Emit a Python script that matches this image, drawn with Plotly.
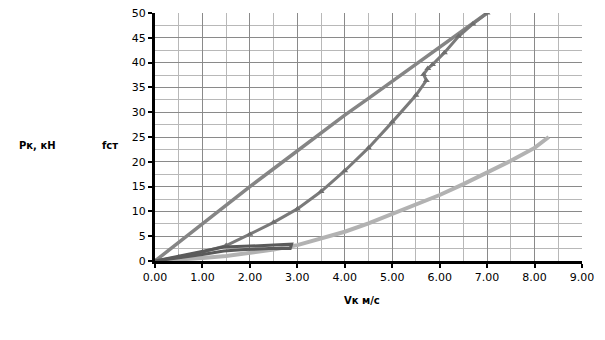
import plotly.graph_objects as go

# Traction force Pk (kN) versus speed Vk (m/s)
upper_v = [0.0, 0.5, 1.0, 1.5, 2.0, 2.5, 3.0, 3.5, 4.0, 4.5, 5.0, 5.5, 6.0, 6.5, 7.0]
upper_p = [0.0, 3.8, 7.4, 11.2, 15.0, 18.6, 22.2, 25.9, 29.4, 32.8, 36.2, 39.6, 43.0, 46.5, 50.0]

lower_v = [0.0, 0.5, 1.0, 1.5, 2.0, 2.5, 3.0, 3.5, 4.0, 4.5, 5.0, 5.5, 5.72, 5.66, 5.75, 5.85,
           6.1, 6.4, 6.7, 7.0]
lower_p = [0.0, 0.8, 1.8, 3.1, 5.4, 7.8, 10.5, 14.0, 18.2, 22.8, 28.0, 33.4, 36.4, 37.6, 38.8,
           39.6, 42.0, 45.3, 47.8, 50.0]

small_v = [0.0, 0.7, 1.45, 2.0, 2.5, 2.88, 2.85, 2.4, 1.9, 1.45, 1.0, 0.5, 0.0]
small_p = [0.0, 1.3, 2.8, 3.0, 3.2, 3.4, 2.5, 2.5, 2.3, 2.0, 1.3, 0.6, 0.0]

light_v = [0.0, 0.5, 1.0, 1.5, 2.0, 2.5, 3.0, 3.5, 4.0, 4.5, 5.0, 5.5, 6.0, 6.5, 7.0, 7.5, 8.0, 8.3]
light_p = [0.0, 0.2, 0.6, 1.0, 1.6, 2.3, 3.2, 4.5, 5.9, 7.6, 9.5, 11.4, 13.3, 15.5, 17.8, 20.2,
           22.8, 25.0]

x_ticks = [0, 1, 2, 3, 4, 5, 6, 7, 8, 9]
y_ticks = [0, 5, 10, 15, 20, 25, 30, 35, 40, 45, 50]

fig = go.Figure()
fig.add_trace(go.Scatter(x=light_v, y=light_p, mode="lines",
                         line=dict(color="#b2b2b2", width=4)))
fig.add_trace(go.Scatter(x=upper_v, y=upper_p, mode="lines",
                         line=dict(color="#858585", width=3.5)))
fig.add_trace(go.Scatter(x=lower_v, y=lower_p, mode="lines+markers",
                         line=dict(color="#7a7a7a", width=3),
                         marker=dict(symbol="triangle-up", size=6, color="#6e6e6e")))
fig.add_trace(go.Scatter(x=small_v, y=small_p, mode="lines",
                         line=dict(color="#5a5a5a", width=3)))

axis_font = dict(family="DejaVu Sans", size=11, color="#000")
fig.update_xaxes(range=[0, 9], tickvals=x_ticks, tickformat=".2f", automargin=False,
                 showgrid=True, gridcolor="#8a8a8a", gridwidth=1,
                 minor=dict(dtick=0.5, showgrid=True, gridcolor="#b8b8b8", gridwidth=1),
                 showline=True, linecolor="#000", linewidth=3,
                 ticks="outside", ticklen=4, tickwidth=2, tickcolor="#000",
                 tickfont=axis_font, zeroline=False)
fig.update_yaxes(range=[0, 50], tickvals=y_ticks, automargin=False,
                 showgrid=True, gridcolor="#8a8a8a", gridwidth=1,
                 minor=dict(dtick=2.5, showgrid=True, gridcolor="#b8b8b8", gridwidth=1),
                 showline=True, linecolor="#000", linewidth=3,
                 ticks="outside", ticklen=4, tickwidth=2, tickcolor="#000",
                 tickfont=axis_font, zeroline=False)

L, R, T, B = 155, 23, 13, 79
W, H = 605, 340
pw, ph = W - L - R, H - T - B


def px(xp):
    return (xp - L) / pw


def py(yp):
    return (H - B - yp) / ph


label_font = dict(family="DejaVu Sans", size=10, color="#000")
fig.add_annotation(text="<b>Рк, кН</b>", x=px(37), y=py(145), xref="paper", yref="paper",
                   showarrow=False, xanchor="center", yanchor="middle", font=label_font)
fig.add_annotation(text="<b>fст</b>", x=px(110), y=py(145), xref="paper", yref="paper",
                   showarrow=False, xanchor="center", yanchor="middle", font=label_font)
fig.add_annotation(text="<b>Vк м/с</b>", x=px(362), y=py(300), xref="paper", yref="paper",
                   showarrow=False, xanchor="center", yanchor="middle", font=label_font)

fig.update_layout(width=W, height=H, margin=dict(l=L, r=R, t=T, b=B, autoexpand=False),
                  paper_bgcolor="#fff", plot_bgcolor="#fff", showlegend=False)

fig.write_html("out.html")
